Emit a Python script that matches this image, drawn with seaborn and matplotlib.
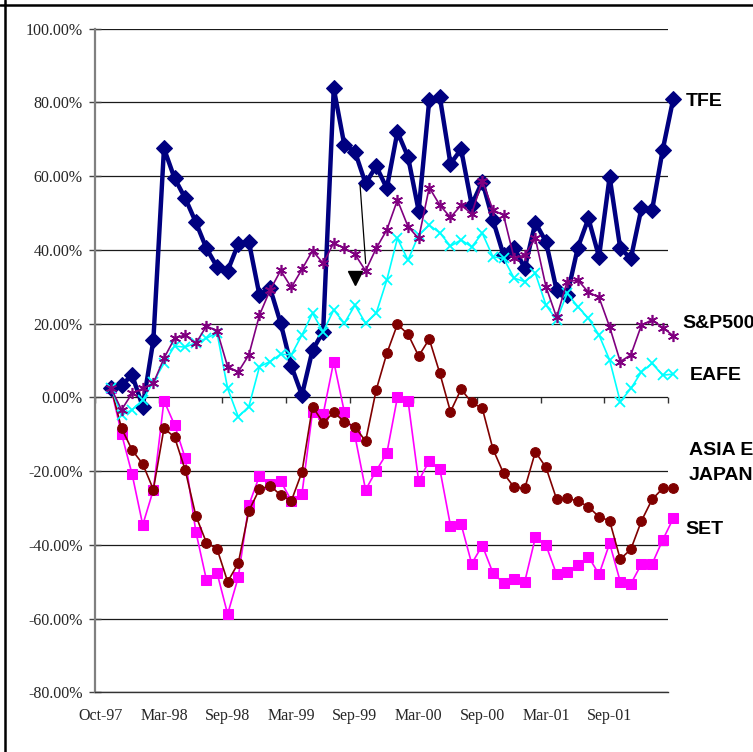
import numpy as np
import pandas as pd
import seaborn as sns
import matplotlib

matplotlib.use('Agg')
import matplotlib.pyplot as plt
from matplotlib.lines import Line2D
from matplotlib.ticker import StrMethodFormatter

# monthly returns (%), Oct-97 .. Mar-02
months = pd.date_range('1997-10-01', periods=54, freq='MS')

tfe = [2.6, 3.3, 6.0, -2.5, 15.5, 67.5, 59.4, 54.0, 47.5, 40.4,
       35.4, 34.3, 41.6, 42.2, 27.7, 29.6, 20.1, 8.5, 0.6, 12.8,
       17.8, 83.8, 68.4, 66.6, 58.0, 62.7, 56.7, 72.0, 65.2, 50.6,
       80.6, 81.4, 63.3, 67.3, 52.2, 58.5, 48.1, 38.6, 40.6, 35.0,
       47.4, 42.2, 29.1, 27.7, 40.6, 48.5, 38.1, 59.8, 40.4, 37.7,
       51.3, 50.8, 67.1, 81.0]
sp500 = [2.6, -3.4, 1.1, 2.4, 3.8, 10.6, 16.0, 16.9, 14.6, 19.3,
         18.1, 8.3, 6.9, 11.5, 22.3, 29.1, 34.4, 29.8, 34.7, 39.8,
         36.3, 41.9, 40.4, 38.8, 34.3, 40.4, 45.4, 53.5, 46.3, 43.1,
         56.9, 52.1, 48.8, 52.1, 49.8, 58.7, 50.8, 49.4, 37.7, 38.6,
         43.1, 30.0, 21.7, 31.4, 31.8, 28.5, 27.1, 19.1, 9.7, 11.5,
         19.6, 21.0, 18.9, 16.7]
eafe = [2.6, -4.8, -3.4, -0.7, 4.2, 9.2, 13.9, 13.6, 14.8, 16.0,
        17.5, 2.4, -5.3, -2.5, 8.3, 9.7, 11.7, 11.5, 16.9, 22.8,
        17.8, 23.7, 20.1, 25.0, 20.1, 22.8, 31.8, 43.1, 37.2, 44.0,
        46.7, 44.6, 41.0, 42.7, 40.8, 44.5, 38.1, 37.7, 32.3, 31.4,
        33.6, 25.0, 21.0, 28.2, 24.6, 21.4, 16.9, 10.1, -1.2, 2.4,
        6.9, 9.2, 6.0, 6.3]
asia_ex_japan = [2.7, -8.4, -14.3, -18.1, -25.0, -8.4, -10.8, -19.7, -32.1, -39.4,
                 -41.1, -50.0, -45.0, -30.8, -24.9, -24.0, -26.5, -28.1, -20.3, -2.5,
                 -6.9, -4.1, -6.6, -8.0, -11.9, 2.0, 11.9, 19.8, 17.1, 11.2,
                 15.8, 6.5, -3.9, 2.2, -1.4, -3.0, -14.0, -20.6, -24.4, -24.7,
                 -14.8, -19.0, -27.6, -27.4, -28.1, -29.7, -32.4, -33.5, -43.9, -41.2,
                 -33.5, -27.7, -24.7, -24.7]
set_idx = [2.6, -9.9, -20.9, -34.6, -25.1, -0.9, -7.5, -16.5, -36.4, -49.5,
           -47.6, -58.8, -48.8, -29.2, -21.3, -23.5, -22.7, -28.0, -26.3, -3.9,
           -4.6, 9.7, -4.0, -10.5, -25.1, -19.9, -15.2, 0.0, -0.9, -22.7,
           -17.2, -19.5, -34.8, -34.4, -45.1, -40.2, -47.6, -50.4, -49.4, -50.0,
           -38.0, -40.1, -48.0, -47.3, -45.5, -43.2, -48.0, -39.6, -50.0, -50.6,
           -45.2, -45.2, -38.7, -32.8]

tick_labels = ['Oct-97', 'Mar-98', 'Sep-98', 'Mar-99', 'Sep-99',
               'Mar-00', 'Sep-00', 'Mar-01', 'Sep-01']

df = pd.DataFrame({'month': months, 'TFE': tfe, 'S&P500': sp500, 'EAFE': eafe,
                   'ASIA EX JAPAN': asia_ex_japan, 'SET': set_idx})
df['i'] = np.arange(len(df))

sns.set_style('white')
plt.rcParams['axes.unicode_minus'] = False

fig = plt.figure(figsize=(7.53, 7.52), dpi=100)
ax = fig.add_axes([95 / 753, 59.7 / 752, 573 / 753, 663.7 / 752])

# series style: color, marker, size, line width, zorder
styles = {
    'SET': dict(color='#FF00FF', marker='s', markersize=7, linewidth=1.2, zorder=3),
    'ASIA EX JAPAN': dict(color='#800000', marker='o', markersize=7, linewidth=1.2, zorder=3.1),
    'TFE': dict(color='#000080', marker='D', markersize=8, linewidth=3.2, zorder=3.2),
    'EAFE': dict(color='#00FFFF', marker='x', markersize=7, linewidth=1.2,
                 markeredgewidth=1.3, zorder=3.3),
    'S&P500': dict(color='#800080', marker=(6, 2, 0), markersize=8, linewidth=1.2,
                   markeredgewidth=1.2, zorder=3.4),
}
for name, st in styles.items():
    sns.lineplot(data=df, x='i', y=name, ax=ax, clip_on=False,
                 markeredgecolor=st['color'], **st)

# annotation arrow from the report (line and loose arrow head)
ax.plot([23.48, 24.01], [57.6, 36.3], color='black', lw=0.9, zorder=5)
ax.plot([23.0], [32.35], marker='v', markersize=9.8, color='black', zorder=5)

ax.set_xlim(-1.5, 52.5)
ax.set_ylim(-80, 100)
ax.set_xlabel('')
ax.set_ylabel('')

# y axis
ax.set_yticks(np.arange(-80, 101, 20))
ax.yaxis.set_major_formatter(StrMethodFormatter('{x:.2f}%'))
ax.tick_params(axis='y', direction='inout', length=8, width=1, color='#444444',
               pad=5, left=True)
for lab in ax.get_yticklabels():
    lab.set_fontfamily('Liberation Serif')
    lab.set_fontsize(11.5)
ax.grid(axis='y', color='#1a1a1a', linewidth=0.9)
ax.set_axisbelow(True)

# x labels along the bottom, tick marks on the zero line
label_pos = [(d.year - 1997) * 12 + d.month - 10
             for d in pd.to_datetime(tick_labels, format='%b-%y')]
label_pos[0] = ax.get_xlim()[0] + 0.5
ax.set_xticks(label_pos)
ax.set_xticklabels(tick_labels, fontfamily='Liberation Serif', fontsize=11.5)
ax.tick_params(axis='x', length=0, pad=11)

sec = ax.secondary_xaxis(80 / 180)
sec.set_xticks(np.arange(-1.5, 53, 6))
sec.set_xticklabels([])
sec.tick_params(axis='x', direction='out', length=4.5, width=1, color='#333333')
sec.spines['bottom'].set_visible(False)

for side in ['top', 'right']:
    ax.spines[side].set_visible(False)
ax.spines['bottom'].set_color('#333333')
ax.spines['bottom'].set_linewidth(1)
ax.spines['left'].set_color('#808080')
ax.spines['left'].set_linewidth(1.6)

# series labels at the right edge
right_labels = [('TFE', 686, 102), ('S&P500', 682, 324), ('EAFE', 690, 375),
                ('ASIA EX', 689, 450), ('JAPAN', 689, 475), ('SET', 685, 530)]
for txt, px, py in right_labels:
    fig.text(px / 753, 1 - py / 752, txt, fontfamily='Liberation Sans',
             fontweight='bold', fontsize=14, va='center', ha='left', color='black')

# page frame
fig.add_artist(Line2D([5.3 / 753, 5.3 / 753], [0, 1], color='black', lw=1.8))
fig.add_artist(Line2D([0, 1], [1 - 4.5 / 752, 1 - 4.5 / 752], color='black', lw=1.8))

fig.savefig('out.png', dpi=100)
